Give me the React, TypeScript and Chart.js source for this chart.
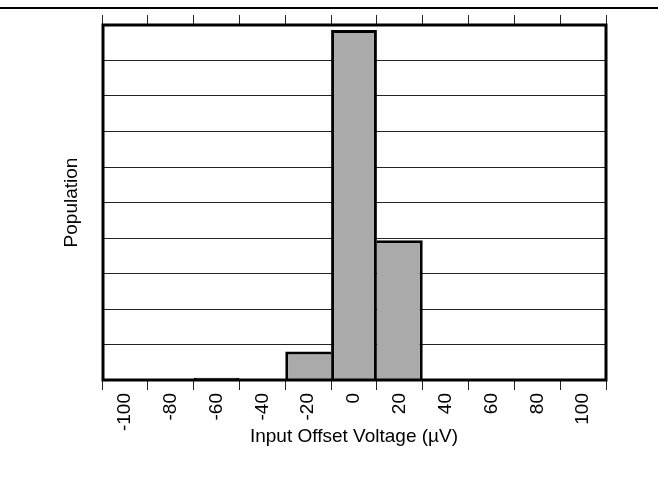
import React, { useEffect, useRef } from "react";
import { Chart, registerables } from "chart.js";

Chart.register(...registerables);

const categories = ["-100", "-80", "-60", "-40", "-20", "0", "20", "40", "60", "80", "100"];
const population = [0, 0, 0.06, 0, 0.8, 9.86, 3.94, 0, 0, 0, 0];
const yMin = 0;
const yMax = 10;
const yStep = 1;
const xTitle = "Input Offset Voltage (\u00b5V)";
const yTitle = "Population";

const FONT = "'Liberation Sans', Arial, sans-serif";

const framePlugin = {
  id: "frame",
  afterDraw(chart: any) {
    const { ctx, chartArea, width } = chart;
    ctx.save();
    ctx.strokeStyle = "#000";
    ctx.lineWidth = 2;
    ctx.beginPath();
    ctx.moveTo(0, 8);
    ctx.lineTo(width, 8);
    ctx.stroke();
    ctx.lineWidth = 3;
    ctx.strokeRect(chartArea.left + 1, chartArea.top, chartArea.right - chartArea.left - 1, chartArea.bottom - chartArea.top);
    ctx.restore();
  },
};

export default function App() {
  const ref = useRef<HTMLCanvasElement>(null);
  useEffect(() => {
    document.body.style.margin = "0";
    const chart = new Chart(ref.current!, {
      type: "bar",
      data: {
        labels: categories,
        datasets: [
          {
            data: population,
            backgroundColor: "#aaaaaa",
            borderColor: "#000",
            borderSkipped: false,
            borderWidth: (ctx: any) => {
              const i = ctx.dataIndex;
              const cur = population[i] ?? 0;
              const next = population[i + 1] ?? 0;
              const prev = population[i - 1] ?? 0;
              return {
                top: 3,
                left: prev > cur ? 0 : 3,
                bottom: 0,
                right: next >= cur ? 0 : 3,
              };
            },
            barPercentage: 1,
            categoryPercentage: 1,
            inflateAmount: 0,
          } as any,
        ],
      },
      options: {
        animation: false,
        responsive: false,
        layout: { padding: { left: 58, right: 52, top: 8, bottom: 45 } },
        plugins: { legend: { display: false }, tooltip: { enabled: false } },
        scales: {
          x: {
            type: "category",
            position: "bottom",
            offset: true,
            grid: { offset: true, drawOnChartArea: false, drawTicks: true, tickLength: 10, color: "#222", lineWidth: 1 },
            border: { display: false },
            ticks: {
              minRotation: 90,
              maxRotation: 90,
              autoSkip: false,
              padding: 3,
              color: "#000",
              font: { family: FONT, size: 19 },
            },
            title: {
              display: true,
              text: xTitle,
              color: "#000",
              font: { family: FONT, size: 19 },
              padding: { top: 0, bottom: 1.6 },
            },
            afterFit: (s: any) => {
              s.height = 70;
            },
          },
          x2: {
            type: "category",
            position: "top",
            labels: categories,
            offset: true,
            grid: { offset: true, drawOnChartArea: false, drawTicks: true, tickLength: 10, color: "#222", lineWidth: 1 },
            border: { display: false },
            ticks: { display: false },
            afterFit: (s: any) => {
              s.height = 17;
            },
          },
          y: {
            min: yMin,
            max: yMax,
            ticks: { stepSize: yStep, display: false },
            grid: { drawTicks: false, tickLength: 0, color: "#222", lineWidth: 1 },
            border: { display: false },
            title: {
              display: true,
              text: yTitle,
              color: "#000",
              font: { family: FONT, size: 19 },
              padding: { top: 2, bottom: 0 },
            },
            afterFit: (s: any) => {
              s.width = 44;
            },
          },
        },
      },
      plugins: [framePlugin],
    } as any);
    return () => chart.destroy();
  }, []);
  return <canvas ref={ref} width={658} height={495} style={{ display: "block" }} />;
}
